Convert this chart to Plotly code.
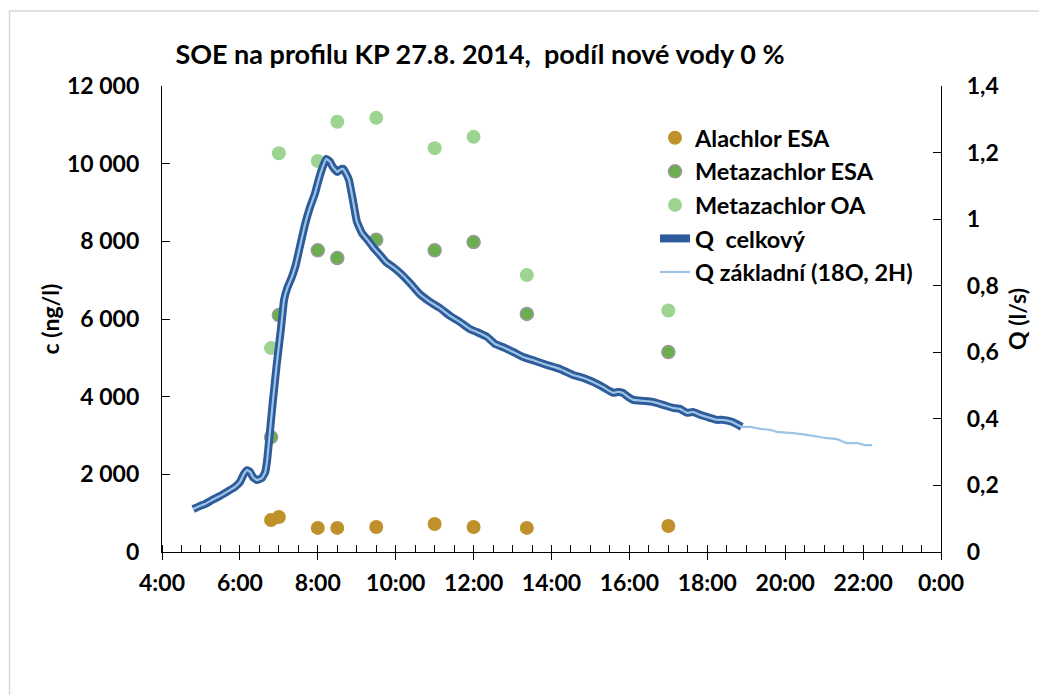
import plotly.graph_objects as go

# ---- data -------------------------------------------------------------
sample_times = ["6:48", "7:00", "8:00", "8:30", "9:30", "11:00", "12:00", "13:22", "17:00"]
alachlor_esa = [824, 900, 620, 620, 645, 720, 645, 620, 670]
metazachlor_esa = [2960, 6100, 7770, 7570, 8040, 7770, 7980, 6130, 5150]
metazachlor_oa = [5250, 10270, 10070, 11080, 11180, 10400, 10690, 7130, 6220]

q_times = ["4:48", "4:58", "5:06", "5:17", "5:29", "5:42", "5:52", "6:00", "6:06", "6:11",
           "6:16", "6:20", "6:26", "6:34", "6:39", "6:42", "6:45", "6:51", "6:57", "7:03",
           "7:08", "7:13", "7:20", "7:26", "7:33", "7:40", "7:48", "7:56", "8:00", "8:06",
           "8:13", "8:19", "8:23", "8:30", "8:34", "8:39", "8:43", "8:48", "8:54", "9:00",
           "9:08", "9:17", "9:25", "9:36", "9:45", "9:56", "10:07", "10:22", "10:37", "10:53",
           "11:08", "11:24", "11:39", "11:54", "12:05", "12:21", "12:33", "12:48", "13:04", "13:16",
           "13:35", "13:53", "14:13", "14:33", "14:49", "15:04", "15:19", "15:35", "15:42", "15:50",
           "15:58", "16:06", "16:21", "16:36", "16:52", "17:07", "17:18", "17:29", "17:38", "17:49",
           "18:04", "18:15", "18:24", "18:38", "18:53",
           "19:06", "19:21", "19:37", "19:47", "20:07", "20:23", "20:43", "21:04", "21:20", "21:35",
           "21:51", "22:03", "22:14"]
q_zakladni = [0.129, 0.138, 0.144, 0.156, 0.168, 0.183, 0.195, 0.210, 0.234, 0.246,
              0.240, 0.225, 0.216, 0.222, 0.240, 0.276, 0.336, 0.457, 0.568, 0.667,
              0.757, 0.793, 0.826, 0.862, 0.922, 0.982, 1.036, 1.079, 1.109, 1.148,
              1.181, 1.172, 1.157, 1.142, 1.148, 1.151, 1.139, 1.118, 1.058, 0.994,
              0.958, 0.937, 0.916, 0.892, 0.871, 0.856, 0.838, 0.808, 0.775, 0.751,
              0.733, 0.709, 0.691, 0.670, 0.661, 0.646, 0.625, 0.613, 0.598, 0.586,
              0.574, 0.562, 0.550, 0.532, 0.523, 0.511, 0.496, 0.478, 0.481, 0.478,
              0.466, 0.457, 0.454, 0.451, 0.442, 0.433, 0.430, 0.418, 0.421, 0.412,
              0.403, 0.397, 0.397, 0.391, 0.376,
              0.376, 0.370, 0.367, 0.361, 0.358, 0.355, 0.349, 0.342, 0.339, 0.327,
              0.327, 0.321, 0.321]
q_celkovy_end = "18:53"   # Q celkový measured until this time

x_tick_vals = [4, 6, 8, 10, 12, 14, 16, 18, 20, 22, 24]
x_tick_text = ["4:00", "6:00", "8:00", "10:00", "12:00", "14:00", "16:00", "18:00", "20:00", "22:00", "0:00"]


def to_h(s):
    h, m = s.split(":")
    return int(h) + int(m) / 60.0


sx = [to_h(t) for t in sample_times]
qx = [to_h(t) for t in q_times]
n_cel = q_times.index(q_celkovy_end) + 1

FONT = "Lato, Carlito, sans-serif"
fig = go.Figure()

fig.add_trace(go.Scatter(x=sx, y=alachlor_esa, mode="markers", name="Alachlor ESA",
                         marker=dict(size=14, color="#C0912B")))
fig.add_trace(go.Scatter(x=sx, y=metazachlor_esa, mode="markers", name="Metazachlor ESA",
                         marker=dict(size=13, color="#6AAE4E", line=dict(color="#9A9A9A", width=1.5))))
fig.add_trace(go.Scatter(x=sx, y=metazachlor_oa, mode="markers", name="Metazachlor OA",
                         marker=dict(size=14, color="#9DD492")))
fig.add_trace(go.Scatter(x=qx[:n_cel], y=q_zakladni[:n_cel], mode="lines", name="Q  celkový",
                         yaxis="y2", line=dict(color="#2E5C9A", width=8, shape="spline", smoothing=0.3)))
fig.add_trace(go.Scatter(x=qx, y=q_zakladni, mode="lines", name="Q základní (18O, 2H)",
                         yaxis="y2", line=dict(color="#9DC3E6", width=2.2, shape="spline", smoothing=0.3)))

# page body adds an 8px offset; margins compensate so the plot area sits at 162..941 x 86..552
OFF = 8
fig.update_layout(
    width=1047, height=695,
    margin=dict(l=162 - OFF, r=106 + OFF, t=86 - OFF, b=143 + OFF),
    paper_bgcolor="white", plot_bgcolor="white",
    separators=", ",
    font=dict(family=FONT, color="#000000"),
    title=dict(text="SOE na profilu KP 27.8. 2014,\u00a0 podíl nové vody 0 %",
               font=dict(family=FONT, size=27, color="#000000", weight="bold"),
               x=(480 - OFF) / 1047, xref="container", xanchor="center",
               y=1 - (55 - OFF) / 695, yref="container", yanchor="middle"),
    showlegend=True,
    legend=dict(x=(655 - 162) / 779, y=(552 - 116) / 466, xanchor="left", yanchor="top",
                bgcolor="rgba(0,0,0,0)", borderwidth=0,
                font=dict(family=FONT, size=23.5, color="#000000", weight="bold")),
    xaxis=dict(range=[4, 24], tickmode="array", tickvals=x_tick_vals, ticktext=x_tick_text,
               showline=True, linecolor="black", linewidth=1.3, mirror=False,
               ticks="outside", ticklen=7, tickwidth=1.3, tickcolor="black",
               minor=dict(dtick=0.5, tick0=4, ticks="inside", ticklen=7, tickwidth=1.1, tickcolor="black"),
               showgrid=False, zeroline=False,
               tickfont=dict(family=FONT, size=23, color="#000000", weight="bold"),
               ticklabelstandoff=3),
    yaxis=dict(range=[0, 12000], dtick=2000, tickformat=",d",
               showline=True, linecolor="black", linewidth=1.3,
               ticks="inside", ticklen=8, tickwidth=1.3, tickcolor="black",
               showgrid=False, zeroline=False,
               tickfont=dict(family=FONT, size=23, color="#000000", weight="bold"),
               ticklabelstandoff=17,
               title=dict(text="c (ng/l)", standoff=0,
                          font=dict(family=FONT, size=23, color="#000000", weight="bold"))),
    yaxis2=dict(range=[0, 1.4], dtick=0.2, overlaying="y", side="right",
                showline=True, linecolor="black", linewidth=1.3,
                ticks="inside", ticklen=8, tickwidth=1.3, tickcolor="black",
                showgrid=False, zeroline=False,
                tickfont=dict(family=FONT, size=23, color="#000000", weight="bold"),
                ticklabelstandoff=20,
                title=dict(text="Q (l/s)", standoff=12,
                           font=dict(family=FONT, size=23, color="#000000", weight="bold"))),
    shapes=[dict(type="rect", xref="paper", yref="paper",
                 x0=(9.5 - 162) / 779, x1=1.2, y0=-0.4, y1=541 / 466,
                 line=dict(color="#D9D9D9", width=1.5), fillcolor="rgba(0,0,0,0)", layer="below")],
)

fig.write_html("out.html")
